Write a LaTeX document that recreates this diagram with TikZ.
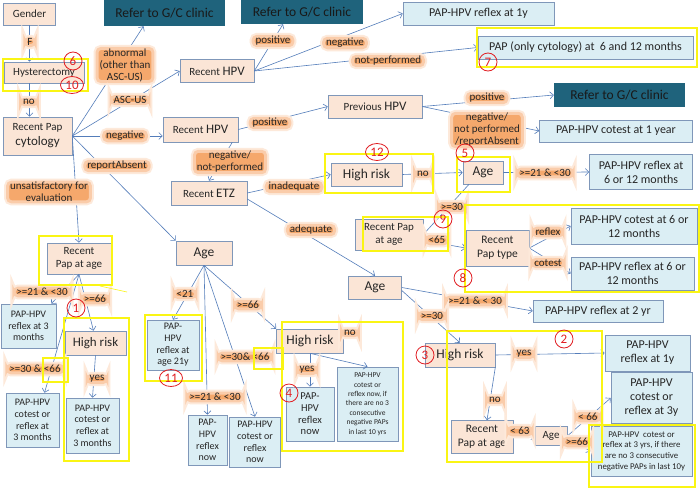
\documentclass[tikz,border=0pt]{standalone}
\usepackage{fontspec}
\setmainfont{Carlito}
\usetikzlibrary{arrows.meta,calc,shapes.geometric}
\newcommand\fsz[2]{\fontsize{#1}{#2}\selectfont}
\definecolor{peach}{RGB}{251,229,214}
\definecolor{bord}{RGB}{127,151,185}
\definecolor{pblue}{RGB}{219,238,244}
\definecolor{gcteal}{RGB}{31,99,124}
\definecolor{arrowc}{RGB}{84,125,186}
\definecolor{glowc}{RGB}{245,168,108}
\definecolor{glowe}{RGB}{250,204,170}
\definecolor{glowo}{RGB}{253,233,218}
\definecolor{ylw}{RGB}{250,245,20}
\definecolor{redc}{RGB}{225,30,35}
\tikzset{
 pn/.style={draw=bord, fill=peach, text=black!85, align=center, inner sep=1pt, line width=0.6pt},
 bn/.style={draw=bord, fill=pblue, text=black!85, align=center, inner sep=1pt, line width=0.6pt},
 tn/.style={fill=gcteal, text=black!90, align=center, inner sep=1pt, font=\fsz{13.5}{14}},
 sz/.style 2 args={minimum width=#1pt, minimum height=#2pt},
 arr/.style={draw=arrowc, line width=0.6pt, -{Straight Barb[length=3.5pt,width=7pt]}},
 lb/.style={preaction={draw=glowo, line width=7pt}, fill=glowc, draw=glowe, line width=3pt, rounded corners=4pt, inner xsep=2.5pt, inner ysep=0pt, text=black!85, align=center, font=\fsz{11}{12}},
 yb/.style={draw=ylw, line width=1.6pt},
 rc/.style={ellipse, draw=redc, line width=0.8pt, text=redc, inner sep=0pt, minimum width=18pt, minimum height=18pt, font=\fsz{13}{13}},
 rcw/.style={rc, minimum width=23pt, minimum height=17pt},
}
\begin{document}
\begin{tikzpicture}[x=1pt,y=-1pt]
\fill[white] (0,0) rectangle (700,490);
\useasboundingbox (0,0) rectangle (700,490);
% peach nodes
\node[pn,sz={52}{22},font=\fsz{11}{13}] (gender) at (29.5,14) {Gender};
\node[pn,sz={80}{21},font=\fsz{11}{13}] (hyst) at (44,72.5) {Hysterectomy};
\node[pn,sz={69}{38},font=\fsz{11}{15}] (pap) at (37.5,136) {Recent Pap\\{\fsz{13}{15}cytology}};
\node[pn,sz={74}{23},font=\fsz{11}{13}] (hpv1) at (217,71) {Recent {\fsz{13}{13}HPV}};
\node[pn,sz={75}{25},font=\fsz{11}{13}] (hpv2) at (200.5,129.5) {Recent {\fsz{13}{13}HPV}};
\node[pn,sz={94}{23},font=\fsz{11}{13}] (prev) at (375,106.5) {Previous {\fsz{13}{13}HPV}};
\node[pn,sz={76}{24},font=\fsz{11}{13}] (etz) at (209,193) {Recent {\fsz{13}{13}ETZ}};
\node[pn,sz={71}{23},font=\fsz{13.5}{14}] (hr12) at (366.5,174.5) {High risk};
\node[pn,sz={40}{23},font=\fsz{13.5}{14}] (age5) at (483,172.5) {Age};
\node[pn,sz={68}{31},font=\fsz{11}{12.5}] (pap9) at (389,234.5) {Recent Pap\\at age};
\node[pn,sz={63}{36},font=\fsz{11.5}{14}] (ptype) at (497.5,248) {Recent\\Pap type};
\node[pn,sz={53}{23},font=\fsz{13.5}{14}] (ageR) at (375,287.5) {Age};
\node[pn,sz={70}{24},font=\fsz{13.5}{14}] (hr3) at (460,355) {High risk};
\node[pn,sz={62}{33},font=\fsz{11.5}{14}] (pap2) at (482,437) {Recent\\Pap at age};
\node[pn,sz={32}{19},font=\fsz{11}{12}] (agesm) at (551,436) {Age};
\node[pn,sz={56}{24},font=\fsz{13.5}{14}] (ageM) at (204,253) {Age};
\node[pn,sz={64}{31},font=\fsz{11}{12.5}] (papL) at (79,258.5) {Recent\\Pap at age};
\node[pn,sz={61}{24},font=\fsz{13}{14}] (hrL) at (95.5,343) {High risk};
\node[pn,sz={67}{24},font=\fsz{13.5}{14}] (hrM) at (310,341) {High risk};
% teal nodes
\node[tn,sz={121}{26}] (ref1) at (164.5,13) {Refer to G/C clinic};
\node[tn,sz={122}{24}] (ref2) at (302,12) {Refer to G/C clinic};
\node[tn,sz={131}{24}] (ref3) at (619.5,95) {Refer to G/C clinic};
% blue nodes
\node[bn,sz={151}{23},font=\fsz{12}{14}] (b1y) at (478.5,13.5) {PAP-HPV reflex at 1y};
\node[bn,sz={215}{23},font=\fsz{12}{14}] (bpap) at (585.5,47.5) {PAP (only cytology) at~ 6 and 12 months};
\node[bn,sz={153}{22},font=\fsz{12}{14}] (bcot1y) at (616,131) {PAP-HPV cotest at 1 year};
\node[bn,sz={103}{35},font=\fsz{12}{14}] (b612a) at (641,172) {PAP-HPV reflex at\\6 or 12 months};
\node[bn,sz={126}{36},font=\fsz{12}{14}] (bcot612) at (634,226) {PAP-HPV cotest at 6 or\\12 months};
\node[bn,sz={123}{33},font=\fsz{12}{14}] (bref612) at (632.5,273.5) {PAP-HPV reflex at 6 or\\12 months};
\node[bn,sz={130}{22},font=\fsz{12}{14}] (b2yr) at (598,311) {PAP-HPV reflex at 2 yr};
\node[bn,sz={85}{36},font=\fsz{12}{14}] (b1yB) at (647.5,353) {PAP-HPV\\reflex at 1y};
\node[bn,sz={81}{51},font=\fsz{12}{14}] (b3y) at (651.5,398) {PAP-HPV\\cotest or\\reflex at 3y};
\node[bn,sz={101}{50},font=\fsz{8.8}{10.7}] (b3yrs) at (641.5,451) {PAP-HPV~ cotest or\\reflex at 3 yrs, if there\\are no 3 consecutive\\negative PAPs in last 10y};
\node[bn,sz={55}{44},font=\fsz{10}{11.7}] (bL3m) at (28.5,326) {PAP-HPV\\reflex at 3\\months};
\node[bn,sz={53}{54},font=\fsz{10}{11.7}] (bLcot) at (32.5,420) {PAP-HPV\\cotest or\\reflex at\\3 months};
\node[bn,sz={53}{55},font=\fsz{10}{11.7}] (bMcot) at (92.5,425.5) {PAP-HPV\\cotest or\\reflex at\\3 months};
\node[bn,sz={52}{50},font=\fsz{10}{11.7}] (b21y) at (173,345) {PAP-\\HPV\\reflex at\\age 21y};
\node[bn,sz={39}{50},font=\fsz{10}{11.7}] (bnow1) at (207.5,440) {PAP-\\HPV\\reflex\\now};
\node[bn,sz={51}{50},font=\fsz{10}{11.7}] (bnow2) at (255,442) {PAP-HPV\\cotest or\\reflex\\now};
\node[bn,sz={48}{54},font=\fsz{10.5}{11.7}] (bnow3) at (310,414) {PAP-\\HPV\\reflex\\now};
\node[bn,sz={61}{74},font=\fsz{7.5}{9.4}] (bnow4) at (367.5,404) {PAP-HPV\\cotest or\\reflex now, if\\there are no 3\\consecutive\\negative PAPs\\in last 10 yrs};
% connectors
\draw[arr] (gender.south) -- (gender.south |- hyst.north);
\draw[arr] (hyst.south -| gender.south) -- (pap.north -| gender.south);
\draw[arr] (pap.east) -- ($(ref1.south)+(-21,0)$);
\draw[arr] (pap.east) -- (hpv1.west);
\draw[arr] (pap.east) -- (pap.east -| hpv2.west);
\draw[arr] (pap.east) -- (ageM.north west);
\draw[arr] (pap.east) -- (papL.north);
\draw[arr] (hpv1.east) -- ($(ref2.south)+(-19,0)$);
\draw[arr] (hpv1.east) -- (b1y.west);
\draw[arr] (hpv1.east) -- (bpap.west);
\draw[arr] (hpv2.east) -- (prev.west);
\draw[arr] ($(hpv2.south east)+(-6,0)$) -- (etz.north);
\draw[arr] (prev.east) -- (ref3.west);
\draw[arr] (prev.east) -- (bcot1y.west);
\draw[arr] (etz.east) -- (hr12.west);
\draw[arr] ($(etz.east)+(0,6)$) -- (ageR.north);
\draw[arr] (hr12.east) -- (age5.west);
\draw[arr] (age5.east) -- (b612a.west);
\draw[arr] ($(age5.south)+(-14,0)$) -- (pap9.east);
\draw[arr] ($(pap9.east)+(0,6)$) -- (ptype.west);
\draw[arr] (ptype.east) -- (bcot612.west);
\draw[arr] (ptype.east) -- (bref612.west);
\draw[arr] (ageR.east) -- (b2yr.west);
\draw[arr] ($(ageR.east)+(0,3)$) -- (hr3.north);
\draw[arr] (hr3.east) -- (b1yB.west);
\draw[arr] (hr3.south east) -- ($(pap2.north)+(5,0)$);
\draw[arr] (pap2.east) -- (agesm.west);
\draw[arr] (agesm.east) -- (b3y.west);
\draw[arr] ($(agesm.east)+(0,4)$) -- (b3yrs.west);
\draw[arr] (ageM.south) -- (b21y.north);
\draw[arr] (ageM.south) -- (bnow1.north);
\draw[arr] (ageM.south) -- (bnow2.north);
\draw[arr] (ageM.south) -- (hrM.north west);
\draw[arr] (hrM.south) -- (bnow3.north);
\draw[arr] (hrM.south) -- (bnow4.north);
\draw[arr] (papL.south) -- ($(bL3m.north east)+(-5,0)$);
\draw[arr] (papL.south) -- ($(hrL.north)+(-2,0)$);
\draw[arr] (papL.south) -- ($(bLcot.north)+(12,0)$);
\draw[arr] (hrL.south) -- (bMcot.north);
% labels
\node[lb] (lF) at (30,42) {F};
\node[lb] (lno1) at (29,102) {no};
\node[lb] (labn) at (125,65) {abnormal\\(other than\\ASC-US)};
\node[lb] (lasc) at (130,100) {ASC-US};
\node[lb] (lneg1) at (125,136) {negative};
\node[lb] (lrep) at (117,166) {reportAbsent};
\node[lb] (lunsat) at (49,192) {unsatisfactory for\\evaluation};
\node[lb] (lpos1) at (273,41) {positive};
\node[lb] (lneg2) at (345,43) {negative};
\node[lb] (lnp) at (388,61) {not-performed};
\node[lb] (lpos2) at (270,123) {positive};
\node[lb] (lnegnp) at (230,162) {negative/\\not-performed};
\node[lb] (lpos3) at (487,98) {positive};
\node[lb] (lnegrep) at (487,130) {negative/\\not performed\\/reportAbsent};
\node[lb] (linad) at (294,187) {inadequate};
\node[lb] (lno2) at (423,174) {no};
\node[lb] (l2130a) at (545,173) {>=21 \& <30};
\node[lb] (l30a) at (452,207) {>=30};
\node[lb] (l65) at (437,240) {<65};
\node[lb] (lrefl) at (548,232) {reflex};
\node[lb] (lcot) at (548,263) {cotest};
\node[lb] (ladeq) at (311,230) {adequate};
\node[lb] (l2130b) at (475,301) {>=21 \& < 30};
\node[lb] (l30b) at (432,316) {>=30};
\node[lb] (lyes1) at (524,354) {yes};
\node[lb] (lno3) at (495,400) {no};
\node[lb] (l63) at (520,431) {< 63};
\node[lb] (l66a) at (588,417) {< 66};
\node[lb] (l66b) at (577,442) {>=66};
\node[lb] (l21) at (185,294) {<21};
\node[lb] (l66c) at (248,305) {>=66};
\node[lb] (l3066) at (245,357) {>=30\& <66};
\node[lb] (l2130c) at (215,397) {>=21 \& <30};
\node[lb] (lno4) at (350,333) {no};
\node[lb] (lyes2) at (307,370) {yes};
\node[lb] (l2130d) at (42,292) {>=21 \& <30};
\node[lb] (l66d) at (95,299) {>=66};
\node[lb] (l3066b) at (35,369) {>=30 \& <66};
\node[lb] (lyes3) at (97,379) {yes};
% yellow highlight boxes
\draw[yb] (3,59) rectangle (88,91);
\draw[yb] (477,28) rectangle (697,67);
\draw[yb] (325,154) rectangle (433,193);
\draw[yb] (457,157) rectangle (510,192);
\draw[yb] (363,217) rectangle (448,251);
\draw[yb] (465,205) rectangle (699,292);
\draw[yb] (447,331) rectangle (602,462);
\draw[yb] (589,425) rectangle (695,487);
\draw[yb] (282,322) rectangle (403,451);
\draw[yb] (254,348) rectangle (283,369);
\draw[yb] (145,315) rectangle (202,381);
\draw[yb] (64,318) rectangle (129,461);
\draw[yb] (43,358) rectangle (68,382);
\draw[yb] (39,236) rectangle (112,285);
\draw[draw=ylw, line width=0.6pt] (100,286) -- (127,292);
% red circled numbers
\node[rc] (c6) at (73,61) {6};
\node[rcw] (c10) at (72,85) {10};
\node[rc] (c7) at (488,62) {7};
\node[rcw] (c12) at (377,152) {12};
\node[rc] (c5) at (465,153) {5};
\node[rc] (c9) at (443,219) {9};
\node[rc] (c8) at (463,278) {8};
\node[rc] (c2) at (564,339) {2};
\node[rc] (c3) at (425,355) {3};
\node[rc] (c4) at (289,393) {4};
\node[rc] (c1) at (76,308) {1};
\node[rcw] (c11) at (171,378) {11};
\end{tikzpicture}
\end{document}
